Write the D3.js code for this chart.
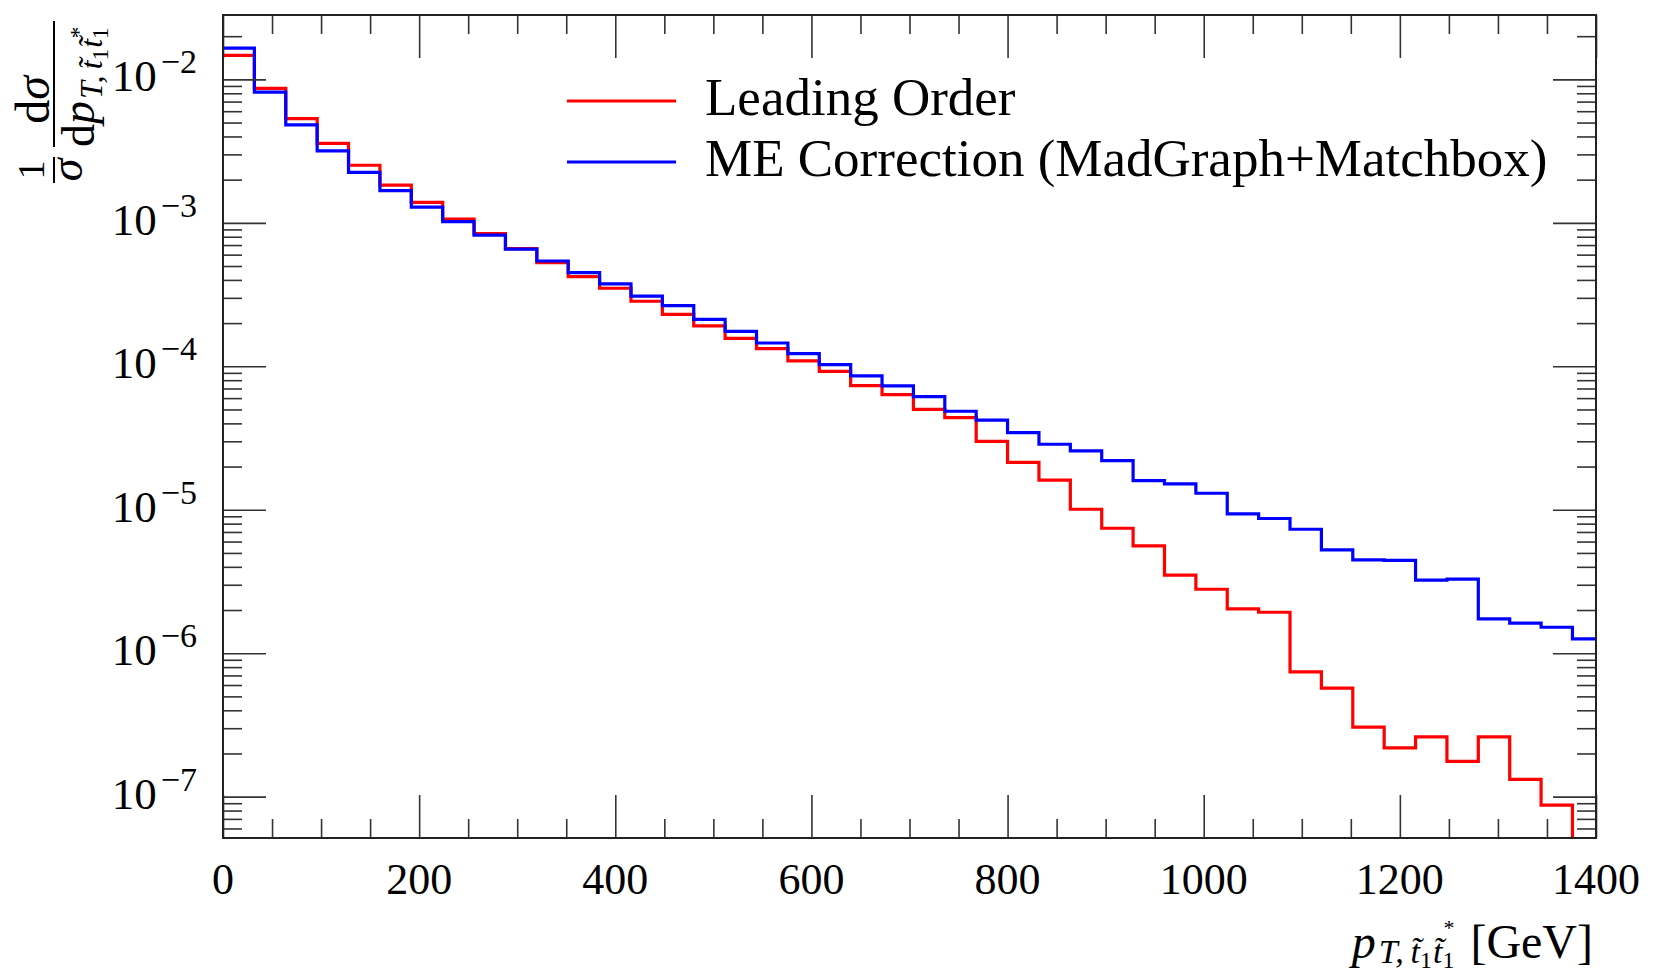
<!DOCTYPE html>
<html>
<head>
<meta charset="utf-8">
<script src="https://cdn.jsdelivr.net/npm/d3@7"></script>
<style>
  html, body { margin: 0; padding: 0; background: #fff; }
  svg { display: block; }
  text { font-family: "Liberation Serif", "DejaVu Serif", serif; fill: #000; }
</style>
</head>
<body>
<svg id="chart" width="1654" height="974"></svg>
<script>
// ---- data -------------------------------------------------------------
// transverse momentum of the stop pair, bins of 32 GeV starting at 0
const binWidth = 32;
const seriesNames = ["Leading Order", "ME Correction (MadGraph+Matchbox)"];
const seriesColors = ["#ff0000", "#0000ff"];

const leadingOrder = [
  0.01468, 0.00866, 0.00532, 0.00358, 0.00252, 0.001834, 0.00139, 0.001063,
  0.00084, 0.00066, 0.000528, 0.000422, 0.00035, 0.000284, 0.00023, 0.000191,
  0.0001567, 0.0001328, 0.0001089, 9.23e-5, 7.34e-5, 6.35e-5, 5.01e-5, 4.39e-5,
  3.00e-5, 2.14e-5, 1.607e-5, 1.008e-5, 7.43e-6, 5.60e-6, 3.50e-6, 2.79e-6,
  2.04e-6, 1.93e-6, 7.41e-7, 5.70e-7, 3.05e-7, 2.19e-7, 2.61e-7, 1.76e-7,
  2.61e-7, 1.318e-7, 8.73e-8, 0
];
const meCorrection = [
  0.01652, 0.00816, 0.00481, 0.00317, 0.00225, 0.001677, 0.001288, 0.00102,
  0.00082, 0.000655, 0.000542, 0.00045, 0.000375, 0.000308, 0.000265, 0.0002126,
  0.0001754, 0.0001453, 0.0001226, 0.0001028, 8.56e-5, 7.30e-5, 6.15e-5, 4.86e-5,
  4.21e-5, 3.45e-5, 2.86e-5, 2.57e-5, 2.20e-5, 1.597e-5, 1.513e-5, 1.303e-5,
  9.35e-6, 8.69e-6, 7.31e-6, 5.25e-6, 4.47e-6, 4.43e-6, 3.23e-6, 3.28e-6,
  1.734e-6, 1.618e-6, 1.517e-6, 1.259e-6
];

const xMajorTicks = [0, 200, 400, 600, 800, 1000, 1200, 1400];
const xMinorStep = 50;
const yDecades = [-2, -3, -4, -5, -6, -7];
const xDomain = [0, 1400];
const yDomain = [5.15e-8, 2.81e-2];

// ---- layout -----------------------------------------------------------
const W = 1654, H = 974;
const margin = { left: 223, top: 15, right: 58, bottom: 136 };
const width = W - margin.left - margin.right;
const height = H - margin.top - margin.bottom;

const svg = d3.select("#chart");
const g = svg.append("g").attr("transform", `translate(${margin.left},${margin.top})`);

const x = d3.scaleLinear().domain(xDomain).range([0, width]);
const y = d3.scaleLog().domain(yDomain).range([height, 0]);
// empty bins fall off the bottom of the log axis
const yPos = v => (v > 0 ? y(v) : height + 40);

// ---- histograms -------------------------------------------------------
svg.append("defs").append("clipPath").attr("id", "plot-clip")
  .append("rect").attr("width", width).attr("height", height);

const step = d3.line().curve(d3.curveStepAfter);
const histPoints = vals => {
  const pts = vals.map((v, i) => [x(i * binWidth), yPos(v)]);
  pts.push([x(vals.length * binWidth), yPos(vals[vals.length - 1])]);
  return pts;
};

const plot = g.append("g").attr("clip-path", "url(#plot-clip)");
[leadingOrder, meCorrection].forEach((vals, k) => {
  plot.append("path")
    .attr("d", step(histPoints(vals)))
    .attr("fill", "none")
    .attr("stroke", seriesColors[k])
    .attr("stroke-width", 3.2)
    .attr("stroke-linejoin", "miter");
});

// ---- ticks (all pointing inwards, mirrored on every side) ---------------
const xMinor = d3.range(xDomain[0], xDomain[1] + 1, xMinorStep).filter(t => !xMajorTicks.includes(t));
const yMajor = yDecades.map(k => Math.pow(10, k));
const yMinor = [];
for (let k = -9; k <= -1; k++) {
  for (let m = 2; m <= 9; m++) {
    const v = m * Math.pow(10, k);
    if (v > yDomain[0] && v < yDomain[1]) yMinor.push(v);
  }
}

const majorLen = 43, minorLen = 19;
function drawAxis(axis, tr) {
  const a = g.append("g").attr("transform", tr).call(axis);
  a.select(".domain").remove();
  a.selectAll("text").remove();
  a.selectAll("line").attr("stroke", "#333").attr("stroke-width", 1.6);
}
drawAxis(d3.axisBottom(x).tickValues(xMajorTicks).tickSize(-majorLen), `translate(0,${height})`);
drawAxis(d3.axisBottom(x).tickValues(xMinor).tickSize(-minorLen), `translate(0,${height})`);
drawAxis(d3.axisTop(x).tickValues(xMajorTicks).tickSize(-majorLen), "translate(0,0)");
drawAxis(d3.axisTop(x).tickValues(xMinor).tickSize(-minorLen), "translate(0,0)");
drawAxis(d3.axisLeft(y).tickValues(yMajor).tickSize(-majorLen), "translate(0,0)");
drawAxis(d3.axisLeft(y).tickValues(yMinor).tickSize(-minorLen), "translate(0,0)");
drawAxis(d3.axisRight(y).tickValues(yMajor).tickSize(-majorLen), `translate(${width},0)`);
drawAxis(d3.axisRight(y).tickValues(yMinor).tickSize(-minorLen), `translate(${width},0)`);

// frame
g.append("rect").attr("width", width).attr("height", height)
  .attr("fill", "none").attr("stroke", "#222").attr("stroke-width", 2);

// ---- tick labels ------------------------------------------------------
g.append("g").selectAll("text").data(xMajorTicks).join("text")
  .attr("x", d => x(d))
  .attr("y", height + 56)
  .attr("text-anchor", "middle")
  .attr("font-size", 44)
  .text(d => d);

const yl = g.append("g").selectAll("text").data(yDecades).join("text")
  .attr("x", -26)
  .attr("y", d => y(Math.pow(10, d)) + 12)
  .attr("text-anchor", "end")
  .attr("font-size", 45);
yl.append("tspan").text("10");
yl.append("tspan").attr("font-size", 34).attr("dx", 4).attr("dy", -18).text(d => "\u2212" + Math.abs(d));

// ---- legend -----------------------------------------------------------
const legend = g.append("g");
seriesNames.forEach((name, k) => {
  const ly = 86 + k * 61;
  legend.append("line")
    .attr("x1", 344).attr("x2", 453).attr("y1", ly).attr("y2", ly)
    .attr("stroke", seriesColors[k]).attr("stroke-width", 3.2);
  legend.append("text")
    .attr("x", 482).attr("y", ly + 14)
    .attr("font-size", 53)
    .text(name);
});

// ---- axis titles ------------------------------------------------------
// x: p_{T, t~1 t~1*} [GeV], right-aligned with the frame
const xt = svg.append("text")
  .attr("x", margin.left + width - 3)
  .attr("y", 958)
  .attr("text-anchor", "end")
  .attr("font-size", 48);
xt.append("tspan").attr("font-style", "italic").text("p");
xt.append("tspan").attr("font-size", 34).attr("dy", 5).attr("dx", 3).attr("font-style", "italic").text("T,\u2009t\u0303");
xt.append("tspan").attr("font-size", 24).attr("dy", 5).text("1");
xt.append("tspan").attr("font-size", 34).attr("dy", -5).attr("dx", 1).attr("font-style", "italic").text("t\u0303");
xt.append("tspan").attr("font-size", 24).attr("dy", 5).text("1");
xt.append("tspan").attr("font-size", 22).attr("dx", -11).attr("dy", -33).text("*");
xt.append("tspan").attr("dy", 23).attr("dx", 16).text("[GeV]");

// y: (1/σ) dσ / dp_{T, t~1 t~1*}, rotated
const yt = svg.append("g").attr("transform", "translate(54,0) rotate(-90)");
yt.append("line").attr("x1", -183).attr("x2", -157).attr("y1", 0).attr("y2", 0)
  .attr("stroke", "#000").attr("stroke-width", 2);
yt.append("text").attr("x", -170).attr("y", -10).attr("text-anchor", "middle")
  .attr("font-size", 38).text("1");
yt.append("text").attr("x", -170).attr("y", 28).attr("text-anchor", "middle")
  .attr("font-size", 46).attr("font-style", "italic").text("σ");

yt.append("line").attr("x1", -147).attr("x2", -21).attr("y1", 0).attr("y2", 0)
  .attr("stroke", "#000").attr("stroke-width", 2);
const num = yt.append("text").attr("x", -100).attr("y", -5).attr("text-anchor", "middle").attr("font-size", 48);
num.append("tspan").text("d");
num.append("tspan").attr("font-style", "italic").text("σ");

const den = yt.append("text").attr("x", -147).attr("y", 40).attr("font-size", 46);
den.append("tspan").text("d");
den.append("tspan").attr("font-style", "italic").text("p");
den.append("tspan").attr("font-size", 32).attr("dy", 8).attr("dx", 2).attr("font-style", "italic").text("T,\u2009t\u0303");
den.append("tspan").attr("font-size", 23).attr("dy", 6).text("1");
den.append("tspan").attr("font-size", 32).attr("dy", -6).attr("dx", 1).attr("font-style", "italic").text("t\u0303");
den.append("tspan").attr("font-size", 23).attr("dy", 6).text("1");
den.append("tspan").attr("font-size", 24).attr("dx", -11).attr("dy", -22).text("*");
</script>
</body>
</html>
